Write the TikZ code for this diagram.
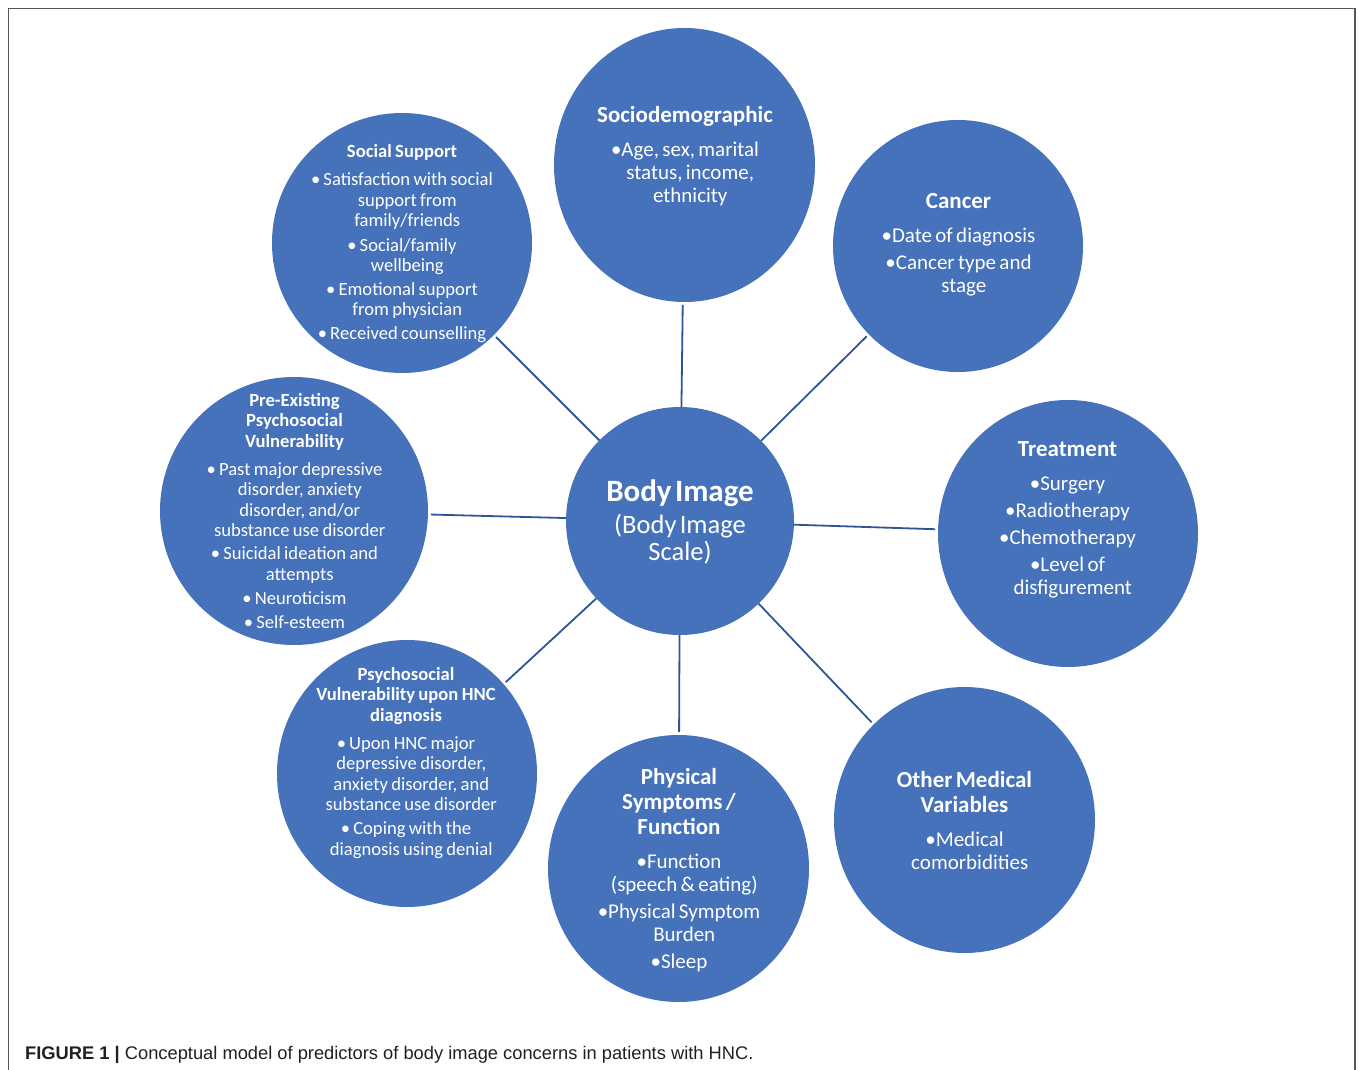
\documentclass[tikz,border=0pt]{standalone}
\usepackage{fontspec}
\setmainfont{Carlito}
\newfontfamily\capfont{Liberation Sans}
\usetikzlibrary{shapes.geometric}

\definecolor{discblue}{RGB}{69,114,186}
\definecolor{linkblue}{RGB}{47,85,151}
\definecolor{framegrey}{RGB}{85,85,85}
\definecolor{captext}{RGB}{35,31,32}

% headings and bullet text inside the discs
\newcommand\bighead[1]{{\fontsize{23}{25}\selectfont\bfseries #1\par}\vspace{11pt}}
\newcommand\bigbody{\fontsize{21}{23}\selectfont}
\newcommand\smallhead[1]{{\fontsize{18.6}{20.5}\selectfont\bfseries #1\par}\vspace{7.5pt}}
\newcommand\smallbody{\fontsize{18.6}{20.5}\selectfont}
\newcommand\bul{\textbullet}
% continuation line of a bulleted item (hanging indent)
\newcommand\hang{\hspace*{10.5pt}}

\begin{document}
\begin{tikzpicture}[x=1pt,y=-1pt,
  disc/.style={ellipse, fill=discblue, draw=none, inner sep=0pt, outer sep=0pt},
  txt/.style={text=white, text width=330pt, align=center, inner sep=0pt, anchor=base},
  link/.style={draw=linkblue, line width=1.8pt, shorten >=3pt}
]
\useasboundingbox (0,0) rectangle (1358,1070);

% outer frame (open at the bottom)
\draw[framegrey, line width=1.5pt] (8.5,1072) -- (8.5,8.5) -- (1355,8.5) -- (1355,1072);

% discs
\node[disc, minimum width=228pt, minimum height=228pt] (body)   at (680,521) {};
\node[disc, minimum width=261pt, minimum height=274pt] (socio)  at (684.5,165) {};
\node[disc, minimum width=250pt, minimum height=252pt] (cancer) at (958,246) {};
\node[disc, minimum width=260pt, minimum height=267pt] (treat)  at (1068,533.5) {};
\node[disc, minimum width=261pt, minimum height=266pt] (other)  at (964.5,820) {};
\node[disc, minimum width=261pt, minimum height=267pt] (phys)   at (678.5,868.5) {};
\node[disc, minimum width=260pt, minimum height=267pt] (hnc)    at (407,773.5) {};
\node[disc, minimum width=268pt, minimum height=268pt] (pre)    at (294,511) {};
\node[disc, minimum width=260pt, minimum height=260pt] (social) at (402,243) {};

% connectors from the central disc
\foreach \n in {socio,cancer,treat,other,phys,hnc,pre,social}
  \draw[link] (body) -- (\n);

% texts
\node[txt] (body-t) at (680,501)
  {{\fontsize{31}{32}\selectfont\bfseries Body Image\par}\vspace{5pt}%
   {\fontsize{26.5}{27}\selectfont (Body Image\\Scale)\par}};

\node[txt] (socio-t) at (685,123)
  {\bighead{Sociodemographic}\bigbody\bul Age, sex, marital\\\hang status, income,\\\hang ethnicity\par};

\node[txt] (cancer-t) at (958.5,208)
  {\bighead{Cancer}\bigbody\bul Date of diagnosis\\[4pt]\bul Cancer type and\\\hang stage\par};

\node[txt] (treat-t) at (1067.5,456)
  {\bighead{Treatment}\bigbody\bul Surgery\\[4pt]\bul Radiotherapy\\[4pt]\bul Chemotherapy\\[4pt]\bul Level of\\\hang disfigurement\par};

\node[txt] (other-t) at (964.5,787)
  {\bighead{Other Medical\\Variables}\bigbody\bul Medical\\\hang comorbidities\par};

\node[txt] (phys-t) at (679,784)
  {\bighead{Physical\\Symptoms /\\Function}\bigbody\bul Function\\\hang (speech \& eating)\\[4pt]\bul Physical Symptom\\\hang Burden\\[4pt]\bul Sleep\par};

\node[txt] (hnc-t) at (406,680)
  {\smallhead{Psychosocial\\Vulnerability upon HNC\\diagnosis}\smallbody
   \bul\,Upon HNC major\\\hang depressive disorder,\\\hang anxiety disorder, and\\\hang substance use disorder\\[3.5pt]%
   \bul\,Coping with the\\\hang diagnosis using denial\par};

\node[txt] (pre-t) at (294.5,406)
  {\smallhead{Pre-Existing\\Psychosocial\\Vulnerability}\smallbody
   \bul\,Past major depressive\\\hang disorder, anxiety\\\hang disorder, and/or\\\hang substance use disorder\\[2.5pt]%
   \bul\,Suicidal ideation and\\\hang attempts\\[3.5pt]\bul\,Neuroticism\\[3.5pt]\bul\,Self-esteem\par};

\node[txt] (social-t) at (402,158)
  {\smallhead{Social Support}\smallbody
   \bul\,Satisfaction with social\\\hang support from\\\hang family/friends\\[3.5pt]%
   \bul\,Social/family\\\hang wellbeing\\[3.5pt]\bul\,Emotional support\\\hang from physician\\[3.5pt]%
   \bul\,Received counselling\par};

% caption
\node[anchor=base west, inner sep=0pt, text=captext] (caption) at (25,1059)
  {\capfont\fontsize{18.3}{20}\selectfont{\bfseries FIGURE 1 |} Conceptual model of predictors of body image concerns in patients with HNC.};
\end{tikzpicture}
\end{document}
